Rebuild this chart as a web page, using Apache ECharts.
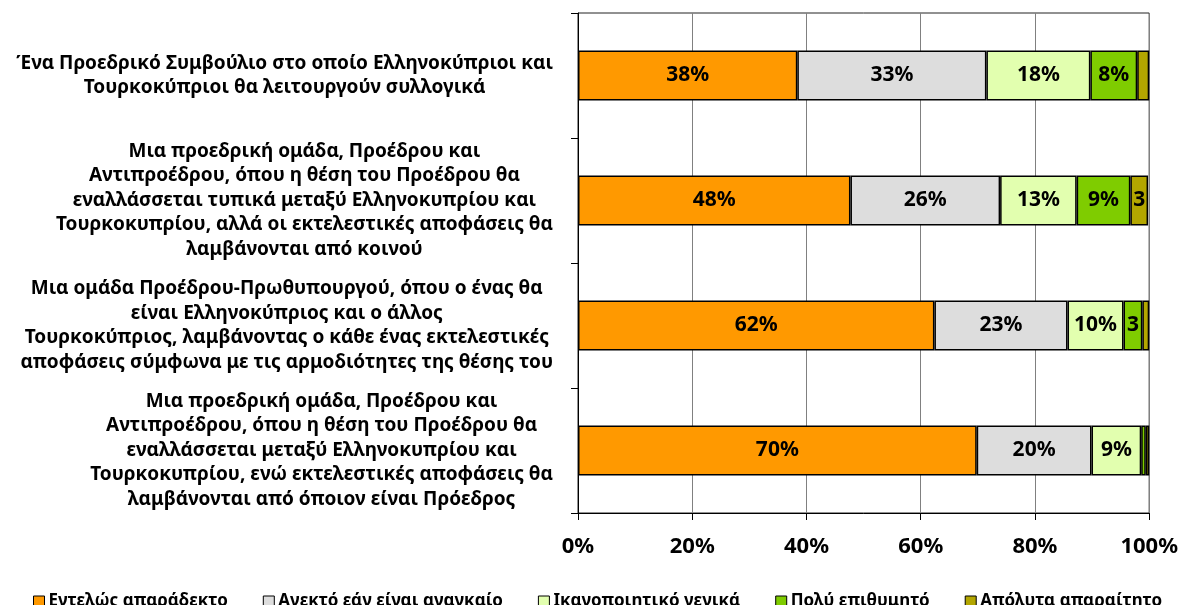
<!DOCTYPE html>
<html>
<head>
<meta charset="utf-8">
<script src="https://cdn.jsdelivr.net/npm/echarts@6/dist/echarts.min.js"></script>
<style>
  html, body { margin: 0; padding: 0; background: #fff; }
  #chart { width: 1181px; height: 605px; }
</style>
</head>
<body>
<div id="chart"></div>
<script>
// categories, top to bottom
const categories = [
  'Ένα Προεδρικό Συμβούλιο στο οποίο Ελληνοκύπριοι και\nΤουρκοκύπριοι θα λειτουργούν συλλογικά',
  'Μια προεδρική ομάδα, Προέδρου και\nΑντιπροέδρου, όπου η θέση του Προέδρου θα\nεναλλάσσεται τυπικά μεταξύ Ελληνοκυπρίου και\nΤουρκοκυπρίου, αλλά οι εκτελεστικές αποφάσεις θα\nλαμβάνονται από κοινού',
  'Μια ομάδα Προέδρου-Πρωθυπουργού, όπου ο ένας θα\nείναι Ελληνοκύπριος και ο άλλος\nΤουρκοκύπριος, λαμβάνοντας ο κάθε ένας εκτελεστικές\nαποφάσεις σύμφωνα με τις αρμοδιότητες της θέσης του',
  'Μια προεδρική ομάδα, Προέδρου και\nΑντιπροέδρου, όπου η θέση του Προέδρου θα\nεναλλάσσεται μεταξύ Ελληνοκυπρίου και\nΤουρκοκυπρίου, ενώ εκτελεστικές αποφάσεις θα\nλαμβάνονται από όποιον είναι Πρόεδρος'
];

const seriesNames = [
  'Εντελώς απαράδεκτο',
  'Ανεκτό εάν είναι αναγκαίο',
  'Ικανοποιητικό γενικά',
  'Πολύ επιθυμητό',
  'Απόλυτα απαραίτητο'
];

// percentages per response level, one value per category
const unacceptable = [38.4, 47.7, 62.4, 69.8];
const tolerable    = [33.1, 26.2, 23.3, 20.1];
const satisfactory = [18.2, 13.4, 9.8, 8.7];
const desirable    = [8.2, 9.4, 3.3, 0.8];
const essential    = [2.1, 3.1, 1.2, 0.6];

const xTicks = [0, 20, 40, 60, 80, 100];

const colors = ['#FF9900', '#DDDDDD', '#E2FFAF', '#7FCC00', '#B3A600'];
const values = [unacceptable, tolerable, satisfactory, desirable, essential];

const FONT = 'Noto Sans';

const chart = echarts.init(document.getElementById('chart'));

const option = {
  animation: false,
  color: colors,
  textStyle: { fontFamily: FONT },
  grid: {
    left: 578, right: 30, top: 13, bottom: 92,
    show: true, borderColor: '#222', borderWidth: 1
  },
  legend: {
    data: seriesNames,
    left: 28,
    top: 588,
    icon: 'rect',
    itemWidth: 11,
    itemHeight: 11,
    itemGap: 35,
    itemStyle: { borderColor: '#000', borderWidth: 1 },
    textStyle: { fontFamily: FONT, fontWeight: 'bold', fontSize: 17, color: '#000', padding: [0, 0, 0, -1] }
  },
  xAxis: {
    type: 'value',
    min: xTicks[0],
    max: xTicks[xTicks.length - 1],
    interval: xTicks[1] - xTicks[0],
    axisLine: { show: true, lineStyle: { color: '#000', width: 1 } },
    axisTick: { show: true, length: 7, lineStyle: { color: '#000' } },
    axisLabel: {
      formatter: '{value}%',
      margin: 23,
      fontFamily: FONT, fontWeight: 'bold', fontSize: 22, color: '#000'
    },
    splitLine: { show: true, lineStyle: { color: '#808080', width: 1 } }
  },
  yAxis: {
    type: 'category',
    data: categories,
    inverse: true,
    axisLine: { show: true, lineStyle: { color: '#000', width: 1 } },
    axisTick: { show: true, length: 7, interval: 0, lineStyle: { color: '#000' } },
    axisLabel: {
      interval: 0,
      align: 'right',
      margin: 25,
      formatter: v => v.split('\n').map(l => '{c|' + l + '}').join('\n'),
      rich: {
        c: {
          align: 'center',
          fontFamily: FONT, fontWeight: 'bold', fontSize: 19, lineHeight: 24.5, color: '#000'
        }
      }
    }
  },
  series: seriesNames.map((name, i) => ({
    name: name,
    type: 'bar',
    stack: 'total',
    barWidth: 50,
    data: values[i],
    itemStyle: { color: colors[i], borderColor: '#000', borderWidth: 1.5 },
    label: {
      show: true,
      position: 'inside',
      fontFamily: FONT, fontWeight: 'bold', fontSize: 21, color: '#000',
      formatter: p => {
        const r = Math.round(p.value);
        if (p.value >= 5) return r + '%';
        if (p.value >= 2.5) return String(r);
        return '';
      }
    }
  }))
};

chart.setOption(option);
</script>
</body>
</html>
